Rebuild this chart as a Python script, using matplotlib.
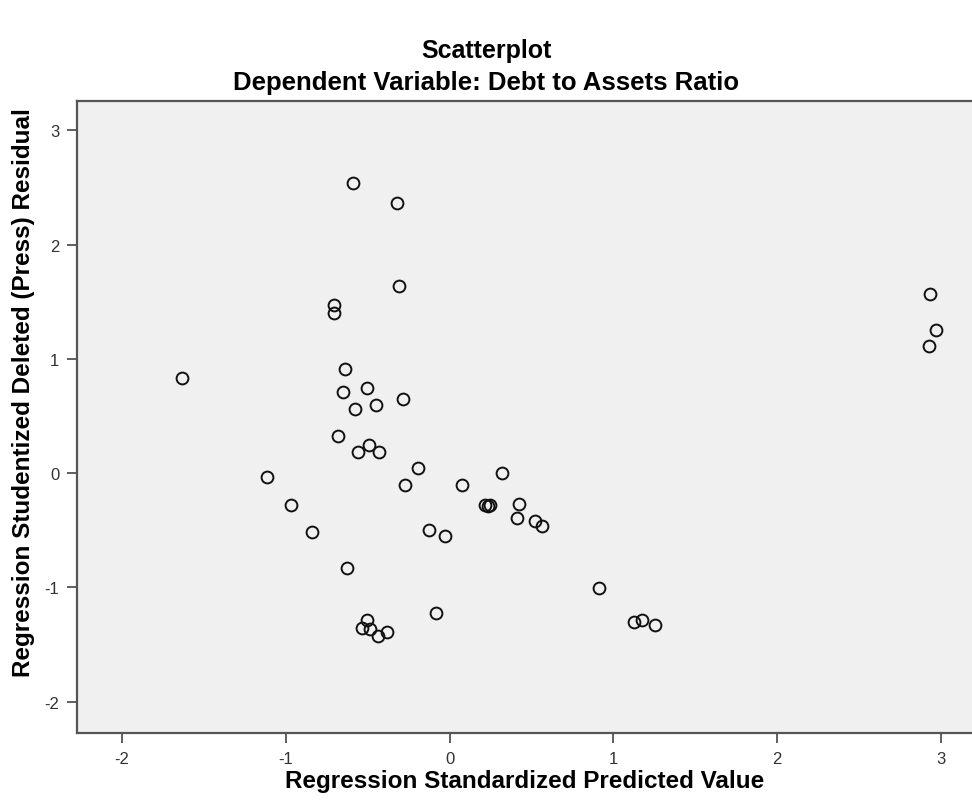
import matplotlib
matplotlib.use("Agg")
import matplotlib.pyplot as plt

# predicted value (x) and studentized deleted residual (y)
pred = [-0.588, -0.323, -0.307, -0.704, -0.704, -1.632, -0.638, -0.652, -0.502, -0.282,
        -0.577, -0.451, -0.683, -0.490, -0.561, -0.431, -1.117, -0.966, -0.838, -0.628,
        -0.502, -0.536, -0.486, -0.435, -0.380, -0.194, -0.272, 0.078, 0.321, 0.217,
        0.247, 0.232, 0.426, 0.412, 0.522, 0.567, -0.125, -0.026, 0.913, 1.127,
        1.174, 1.255, -0.082, 2.931, 2.972, 2.929]
resid = [2.543, 2.368, 1.639, 1.470, 1.400, 0.837, 0.916, 0.711, 0.746, 0.647,
         0.560, 0.598, 0.326, 0.245, 0.181, 0.181, -0.038, -0.280, -0.519, -0.831,
         -1.283, -1.353, -1.365, -1.429, -1.388, 0.041, -0.105, -0.105, 0.000, -0.280,
         -0.280, -0.285, -0.274, -0.394, -0.417, -0.466, -0.499, -0.554, -1.009, -1.301,
         -1.283, -1.327, -1.225, 1.572, 1.251, 1.114]

xticks = [-2, -1, 0, 1, 2, 3]
yticks = [-2, -1, 0, 1, 2, 3]

plt.rcParams['font.family'] = ['Liberation Sans', 'DejaVu Sans']
plt.rcParams['axes.unicode_minus'] = False

fig = plt.figure(figsize=(9.72, 8.12), dpi=100)
ax = fig.add_axes([0.0797, 0.096, 0.9203, 0.778])
ax.set_facecolor('#f0f0f0')

ax.plot(pred, resid, linestyle='none', marker='o', markersize=8.5,
        markerfacecolor='none', markeredgecolor='#111111', markeredgewidth=1.4)

ax.set_xlim(-2.272, 3.19)
ax.set_ylim(-2.275, 3.255)
ax.set_xticks(xticks)
ax.set_yticks(yticks)
ax.tick_params(direction='out', length=7, width=1.2, color='#444444',
               labelsize=12, labelcolor='#333333', pad=6)

ax.spines['right'].set_visible(False)
for side in ['left', 'bottom', 'top']:
    ax.spines[side].set_color('#555555')
    ax.spines[side].set_linewidth(1.6)

ax.set_ylabel('Regression Studentized Deleted (Press) Residual',
              fontsize=17.5, fontweight='bold')
ax.yaxis.set_label_coords(-0.047, 0.54)
ax.set_xlabel('Regression Standardized Predicted Value',
              fontsize=17.5, fontweight='bold')
ax.xaxis.set_label_coords(0.5, -0.057)
fig.text(0.5, 0.937, 'Scatterplot', ha='center', va='center',
         fontsize=18, fontweight='bold')
fig.text(0.5, 0.898, 'Dependent Variable: Debt to Assets Ratio', ha='center',
         va='center', fontsize=18.5, fontweight='bold')

fig.savefig('out.png', dpi=100)
